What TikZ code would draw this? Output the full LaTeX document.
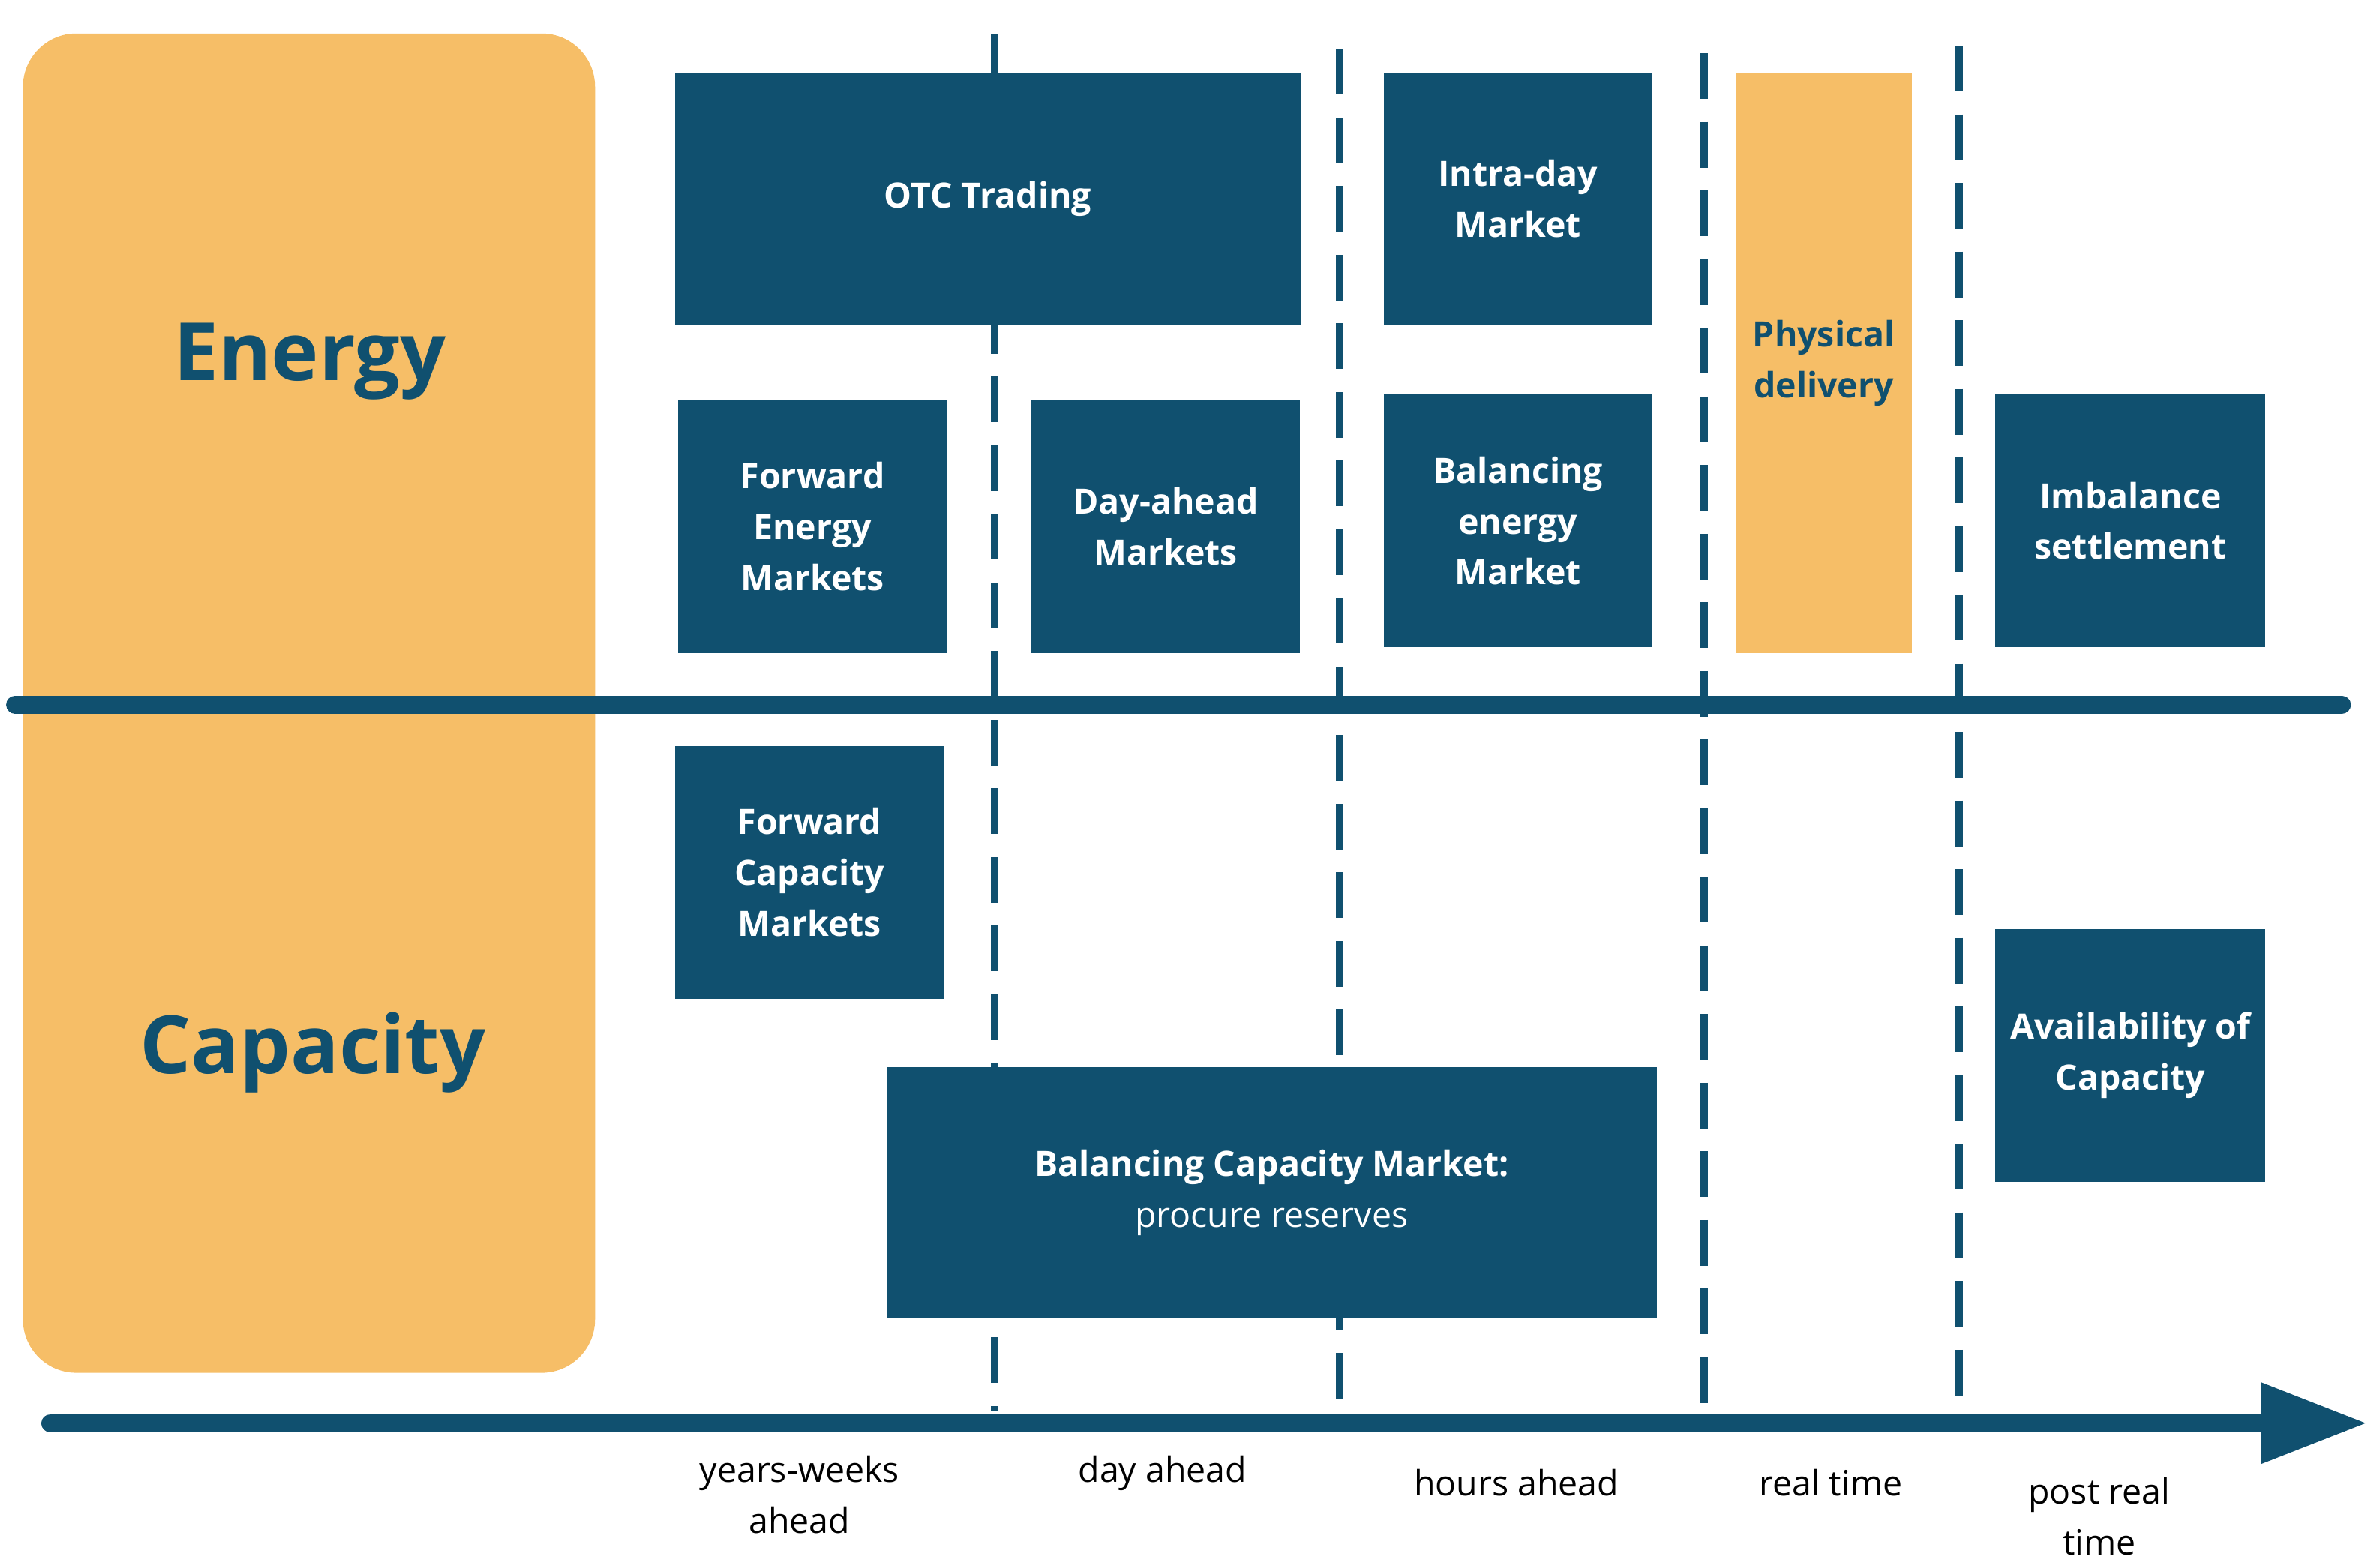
\documentclass[tikz,border=0pt]{standalone}
\usepackage{fontspec}
\setmainfont{Open Sans}
\usetikzlibrary{arrows.meta}
\definecolor{db}{HTML}{10506F}
\definecolor{og}{HTML}{F6BE67}
\begin{document}
\begin{tikzpicture}[x=0.02cm,y=-0.02cm,
  box/.style={fill=db,draw=none,text=white,font=\fontsize{13}{19}\selectfont\bfseries,align=center,inner sep=0pt},
  vdash/.style={db,line width=5*0.02cm,dash pattern=on 0.6cm off 0.3cm},
  lab/.style={text=db,font=\fontsize{30}{36}\selectfont\bfseries},
  tl/.style={font=\fontsize{13}{19}\selectfont,align=center,text=black}]
\useasboundingbox (0,0) rectangle (1560,1028);
\fill[og,rounded corners=0.7cm] (15,22) rectangle (390,900);
\node[lab] (en) at (203,237) {Energy};
\node[lab] (ca) at (205,690) {Capacity};
\coordinate (v1t) at (652,22); \coordinate (v1b) at (652,925);
\coordinate (v2t) at (878,32); \coordinate (v2b) at (878,925);
\coordinate (v3t) at (1117,35); \coordinate (v3b) at (1117,925);
\coordinate (v4t) at (1284,30); \coordinate (v4b) at (1284,925);
\draw[vdash] (v1t) -- (v1b);
\draw[vdash] (v2t) -- (v2b);
\draw[vdash] (v3t) -- (v3b);
\draw[vdash] (v4t) -- (v4b);
\coordinate (hl) at (10,462); \coordinate (hr) at (1535,462);
\draw[db,line width=12*0.02cm,line cap=round] (hl) -- (hr);
\coordinate (al) at (33,933); \coordinate (ar) at (1552,933);
\draw[db,line width=12*0.02cm,line cap=round,-{Triangle[length=1.4cm,width=1cm]}] (al) -- (ar);
\node[box,minimum width=410*0.02cm,minimum height=166*0.02cm] (otc) at (647.5,130.5) {OTC Trading};
\node[box,minimum width=176*0.02cm,minimum height=166*0.02cm] (intra) at (995,130.5) {Intra-day\\Market};
\node[box,fill=og,text=db,minimum width=115*0.02cm,minimum height=380*0.02cm] (phys) at (1195.5,238) {Physical\\delivery};
\node[box,minimum width=176*0.02cm,minimum height=166*0.02cm] (fe) at (532.5,345) {Forward\\Energy\\Markets};
\node[box,minimum width=176*0.02cm,minimum height=166*0.02cm] (da) at (764,345) {Day-ahead\\Markets};
\node[box,minimum width=176*0.02cm,minimum height=166*0.02cm] (be) at (995,341.5) {Balancing\\energy\\Market};
\node[box,minimum width=177*0.02cm,minimum height=166*0.02cm] (im) at (1396.5,341.5) {Imbalance\\settlement};
\node[box,minimum width=176*0.02cm,minimum height=166*0.02cm] (fc) at (530.5,572) {Forward\\Capacity\\Markets};
\node[box,minimum width=505*0.02cm,minimum height=165*0.02cm] (bc) at (833.5,782) {Balancing Capacity Market:\\{\mdseries procure reserves}};
\node[box,minimum width=177*0.02cm,minimum height=166*0.02cm] (av) at (1396.5,692) {Availability of\\Capacity};
\node[tl] (t1) at (524,980) {years-weeks\\ahead};
\node[tl] (t2) at (762,966) {day ahead};
\node[tl] (t3) at (994,972) {hours ahead};
\node[tl] (t4) at (1200,972) {real time};
\node[tl] (t5) at (1376,994) {post real\\time};
\end{tikzpicture}
\end{document}
